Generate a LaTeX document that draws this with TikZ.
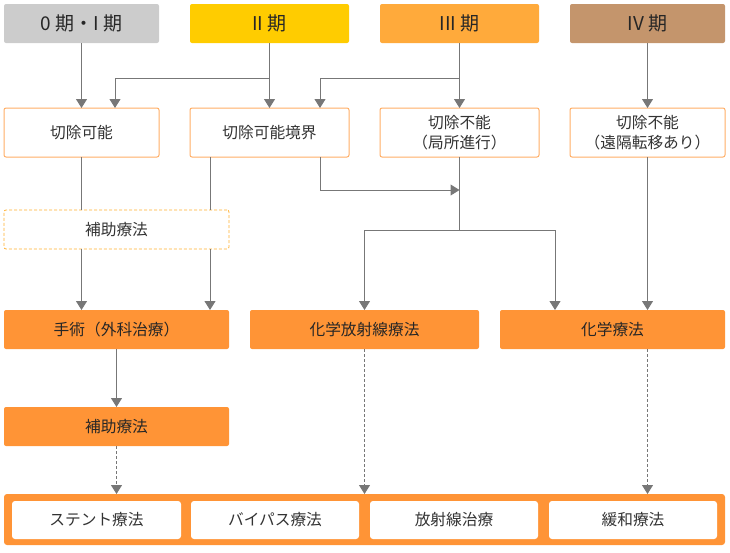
\documentclass[tikz,border=0pt]{standalone}
\usepackage{fontspec}
\setmainfont{Noto Sans CJK JP}
\usetikzlibrary{arrows.meta,calc}
\definecolor{hgray}{HTML}{CCCCCC}
\definecolor{hyellow}{HTML}{FFCC00}
\definecolor{horange}{HTML}{FFAA3B}
\definecolor{hbrown}{HTML}{C4956C}
\definecolor{solor}{HTML}{FF9436}
\definecolor{bord}{HTML}{FFAE66}
\definecolor{dbord}{HTML}{FFB030}
\definecolor{lgray}{HTML}{777777}
\definecolor{txt}{HTML}{333333}
\tikzset{
  base/.style={rectangle, rounded corners=2pt, inner sep=0pt, outer sep=0pt, align=center, text=txt, font=\fontsize{15.7}{19.5}\selectfont},
  head/.style={base, minimum height=39pt, font=\fontsize{19}{22}\selectfont, text=black!85},
  wbox/.style={base, draw=bord, line width=1pt, fill=white, minimum height=49pt},
  dbox/.style={base, draw=dbord, line width=0.8pt, dash pattern=on 3pt off 2pt, fill=white, minimum height=39pt},
  obox/.style={base, fill=solor, minimum height=39pt, text=black!85},
  ibox/.style={base, fill=white, minimum height=38pt, rounded corners=3pt},
  conn/.style={draw=lgray, line width=1pt},
  arr/.style={conn, -{Triangle[width=11pt,length=9pt]}},
  darr/.style={arr, dash pattern=on 3pt off 2pt},
}
\begin{document}
\begin{tikzpicture}[x=1pt,y=-1pt]
\useasboundingbox (0,0) rectangle (730,552);
% headers
\node[head, fill=hgray, minimum width=155pt] (h0) at (81.5,23.5) {0 期・I 期};
\node[head, fill=hyellow, minimum width=159pt] (h2) at (269.5,23.5) {II 期};
\node[head, fill=horange, minimum width=159pt] (h3) at (459.5,23.5) {III 期};
\node[head, fill=hbrown, minimum width=155pt] (h4) at (647.5,23.5) {IV 期};
% row 2
\node[wbox, minimum width=155pt] (r1) at (81.5,132.5) {切除可能};
\node[wbox, minimum width=159pt] (r2) at (269.5,132.5) {切除可能境界};
\node[wbox, minimum width=159pt] (r3) at (459.5,132.5) {切除不能\\（局所進行）};
\node[wbox, minimum width=155pt] (r4) at (647.5,132.5) {切除不能\\（遠隔転移あり）};
% aux dashed
\node[dbox, minimum width=225pt] (aux1) at (116.5,229.5) {補助療法};
% row 4
\node[obox, minimum width=225pt] (surg) at (116.5,329.5) {手術（外科治療）};
\node[obox, minimum width=229pt] (crt) at (364.5,329.5) {化学放射線療法};
\node[obox, minimum width=225pt] (chemo) at (612.5,329.5) {化学療法};
\node[obox, minimum width=225pt] (aux2) at (116.5,426.5) {補助療法};
% bottom container
\node[base, fill=solor, minimum width=721pt, minimum height=51pt, rounded corners=3pt] (bot) at (364.5,519.5) {};
\node[ibox, minimum width=169pt] (b1) at (96.5,520) {ステント療法};
\node[ibox, minimum width=168pt] (b2) at (275,520) {バイパス療法};
\node[ibox, minimum width=168pt] (b3) at (454,520) {放射線治療};
\node[ibox, minimum width=168pt] (b4) at (633,520) {緩和療法};
% connectors from headers
\draw[arr] (h0.south) -- (r1.north);
\draw[arr] (h2.south) -- (r2.north);
\draw[arr] ($(h2.south)+(0,35)$) -| ([xshift=33.5pt]r1.north);
\draw[arr] (h3.south) -- (r3.north);
\draw[arr] ($(h3.south)+(0,35)$) -| ([xshift=50.5pt]r2.north);
\draw[arr] (h4.south) -- (r4.north);
% row 2 to aux / surgery
\draw[conn] (r1.south) -- (r1.south |- aux1.north);
\draw[arr] (r1.south |- aux1.south) -- (r1.south |- surg.north);
\draw[conn] ([xshift=-59.5pt]r2.south) -- ([xshift=-59.5pt]r2.south |- aux1.north);
\draw[arr] ([xshift=-59.5pt]r2.south |- aux1.south) -- ([xshift=-59.5pt]r2.south |- surg.north);
\draw[arr] ([xshift=50.5pt]r2.south) |- ($(r3.south)+(0,33)$);
\draw[conn] (r3.south) -- ($(r3.south)+(0,73)$) coordinate (split);
\draw[arr] (split) -| (crt.north);
\draw[arr] (split) -| ([xshift=-57.5pt]chemo.north);
\draw[arr] (r4.south) -- (r4.south |- chemo.north);
% lower
\draw[arr] (surg.south) -- (aux2.north);
\draw[darr] (aux2.south) -- (aux2.south |- bot.north);
\draw[darr] (crt.south) -- (bot.north);
\draw[darr] (r4.south |- chemo.south) -- (r4.south |- bot.north);
\end{tikzpicture}
\end{document}
